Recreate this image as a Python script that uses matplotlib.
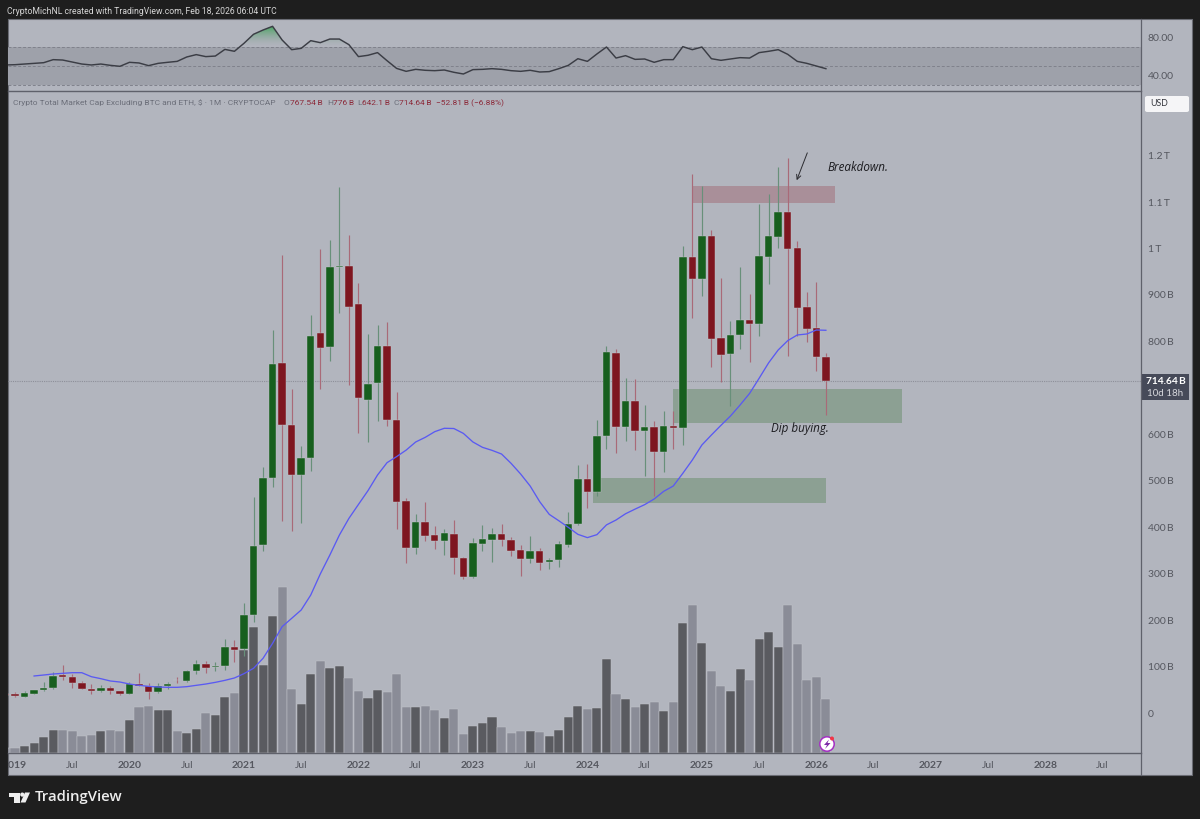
import numpy as np
import matplotlib
matplotlib.use("Agg")
import matplotlib.pyplot as plt
from matplotlib.colors import LinearSegmentedColormap
from matplotlib.patches import Rectangle, Polygon, Circle, FancyBboxPatch
from matplotlib.path import Path
from matplotlib.transforms import Bbox, IdentityTransform

# monthly candles in billions, Dec 2018 to Feb 2026
opens = [41, 40.2, 35.2, 40.9, 48.8, 53.8, 81.1, 76.8, 64.6, 52.4, 47.4, 53.1, 46.7,
         41.6, 62.4, 58.9, 45.2, 57.4, 71.1, 68.2, 91.1, 105.5, 98.3, 100.5, 142,
         137.8, 211, 361.7, 506, 753.6, 619.4, 513, 548, 817.5, 788.7, 961, 962.4,
         880, 674, 710, 790, 630, 455.7, 356, 412, 383, 371, 386, 333,
         292, 364.6, 373, 384.7, 372.5, 351, 332, 349.5, 325, 328.7, 361.7, 407.6,
         503.8, 475, 597, 776, 615, 672.5, 606.5, 615.8, 562, 618.7, 614, 982,
         934, 1028, 806.7, 772, 814, 846, 837.5, 982.5, 1025.6, 1079, 1002, 874,
         828, 767.54]
closes = [39.5, 35.9, 42.3, 49.5, 53.8, 80.4, 76.8, 64.6, 52.4, 47.4, 53.1, 46.7, 41.6,
          62.4, 58.9, 45.2, 57.4, 62.4, 70.4, 91.1, 105.5, 97.6, 100.5, 142, 135.6,
          211, 360.3, 505, 752, 620, 513, 548, 811, 786.6, 961, 962, 875,
          679, 709, 790, 630, 454, 356, 410.5, 381.8, 371, 387, 333, 292,
          365, 374, 384.7, 371.8, 348, 332, 349.5, 323.7, 329.4, 363, 408, 503.8,
          475, 596.4, 778, 615, 672.5, 606.5, 615.8, 562, 618, 614, 981, 934,
          1026, 804.5, 771.5, 814, 845.4, 837.5, 983, 1026, 1078, 1000, 872, 827.5,
          767, 714.64]
highs = [42, 44.5, 46.6, 50.2, 67.5, 89, 102.6, 84.7, 69.6, 61.7, 59.6, 58, 48.1,
         66, 85.4, 64.6, 64.6, 66, 78.2, 92.6, 114.8, 112, 110, 158.6, 157,
         237.6, 464.4, 529, 824, 986, 698, 575.6, 857, 998, 1018, 1132, 1029,
         925, 816, 834.7, 841, 692, 463, 429, 455, 403, 395.5, 415.5, 336.6,
         377.5, 404, 398, 408, 380, 361, 381, 354.5, 333, 370, 433, 534,
         536, 631, 790, 784, 720.6, 719, 664, 628.7, 650, 650, 1005.5, 1160,
         1135, 1040, 936, 844, 960, 901.4, 1095, 1117, 1176, 1195, 1016, 907,
         929, 776]
lows = [38, 34.4, 34.4, 40.2, 48.1, 52.4, 71, 54.5, 51, 41.6, 45.2, 40.9, 39.5,
        40.9, 58, 29.4, 43.8, 52.4, 64.6, 67.5, 84.7, 86.8, 91.1, 92.6, 110,
        122.7, 196.7, 348.8, 486, 413.4, 392, 410, 521.8, 698, 758.6, 860.5, 706,
        603.6, 584, 629.4, 618.6, 396, 322, 342, 371, 353, 341, 299, 288.5,
        290, 348, 325, 360, 338, 295, 323.7, 308, 310, 315, 357, 405.5,
        442, 467, 568, 560.5, 585.6, 566, 511, 468, 518, 568, 577, 850,
        898.6, 745.7, 713.4, 661.7, 783, 755, 812.4, 924, 1002, 768.6, 812.4, 798,
        736, 642.1]

# blue moving average, starts Mar 2019
ma_values = [79.7, 81.8, 84, 85.4, 86.8, 86.8, 78.2, 73.9, 68.9, 66.7,
             62.4, 59.6, 57.4, 56, 55.3, 55.3, 56.7, 59.6, 62.4, 66, 70.3, 75.4,
             84.7, 96.2, 117.7, 150, 185.9, 203.8, 221.8, 254, 299.3, 340, 383, 419,
             449, 478.7, 512.4, 539, 552, 566, 583.5, 593.5, 605.7, 613, 612.5, 602,
             583.5, 572, 565.5, 557.6, 537.5, 514.6, 488.7, 455, 427.7, 414, 399.7, 384.7,
             377.6, 384, 405, 415.5, 429, 439, 448.6, 460.8, 477.3, 488.7, 516, 544.7,
             577, 598.6, 619.4, 639.5, 663, 688, 720.6, 754, 781.6, 801.7, 813.9, 816,
             824.6, 824]

volumes = [5, 5, 7, 10, 15.7, 23.3, 23, 21.7, 17.3, 18, 21.7, 23.3, 21.7,
           33, 45.7, 47, 43.3, 43.3, 22.3, 20, 24, 40, 37.7, 56, 60,
           102.7, 126, 88.3, 137, 165.7, 64, 49, 79.3, 92, 84.7, 86.7, 75.3,
           62.3, 54.7, 63, 60.7, 79.3, 46.3, 46.3, 47.3, 43, 34.7, 44, 19,
           27.3, 30, 36, 25.7, 20.3, 22.3, 22.3, 21, 17, 22.7, 36, 47.3,
           44, 44.7, 94, 58.7, 54, 46.3, 49, 51.3, 42.3, 50.7, 129.7, 148,
           109.7, 82.3, 67.3, 62, 84.3, 73, 113.7, 121, 105.7, 148.3, 109, 73,
           76.3, 53.7]

rsi_values = [51.6, 51.9, 52.6, 53.3, 54, 57.2, 56.8, 54.7, 52.6, 51.6, 52.6, 51.2, 50.2,
              54.4, 53.7, 50.9, 53.3, 54.4, 55.4, 60, 62.5, 60.4, 61, 68, 66,
              74.4, 83.9, 88.4, 92.3, 77.9, 67.7, 69.1, 77.2, 75.1, 78.9, 78.9, 73,
              60.4, 61.8, 64.6, 56.1, 48, 44.9, 47, 46, 45.6, 46.3, 43.9, 42.1,
              46.7, 47, 47.7, 47, 45.6, 44.9, 46, 44.2, 44.6, 47.7, 51.2, 58.2,
              55.4, 63.2, 70.5, 58.9, 61.4, 57.5, 57.9, 54.4, 57.2, 57.2, 70.9, 67.7,
              70.5, 58.2, 56.5, 57.9, 59.3, 58.9, 64.6, 66, 67.7, 62.8, 55.4, 53.3,
              50.5, 47.7]

price_ticks = [0, 100, 200, 300, 400, 500, 600, 800, 900, 1000, 1100, 1200]
price_labels = ["0", "100\u2009B", "200\u2009B", "300\u2009B", "400\u2009B", "500\u2009B", "600\u2009B",
                "800\u2009B", "900\u2009B", "1\u2009T", "1.1\u2009T", "1.2\u2009T"]
time_ticks = [0, 6, 12, 18, 24, 30, 36, 42, 48, 54, 60, 66, 72, 78, 84, 90, 96, 102, 108, 114]
time_labels = ["2019", "Jul", "2020", "Jul", "2021", "Jul", "2022", "Jul", "2023", "Jul",
               "2024", "Jul", "2025", "Jul", "2026", "Jul", "2027", "Jul", "2028", "Jul"]
rsi_ticks = [40, 80]
rsi_labels = ["40.00", "80.00"]

months = np.arange(-1, 86)
opens, closes, highs, lows = map(np.array, (opens, closes, highs, lows))
volumes = np.array(volumes)
rsi_values = np.array(rsi_values)
ma_months = np.arange(2, 86)

W, H = 1200, 819
BG = "#b2b5be"
DARK = "#1e1e1e"
LINE = "#5f616b"
AXIS_TXT = "#55575f"
GREEN, RED = "#175f1e", "#7e1620"
GREEN_WICK, RED_WICK = "#68907a", "#a96a78"
VOL_UP, VOL_DOWN = "#5a5b60", "#8a8c97"

plt.rcParams["font.family"] = ["Lato", "DejaVu Sans"]


def box(x0, y0, x1, y1):
    return [x0 / W, 1 - y1 / H, (x1 - x0) / W, (y1 - y0) / H]


def fp(x, y):
    return (x / W, 1 - y / H)


def badge(x, y, r, **kw):
    # round shapes go in pixels so they stay circles
    fig.patches.append(Circle((x, H - y), r, transform=IdentityTransform(), **kw))


fig = plt.figure(figsize=(12, 8.19), dpi=100, facecolor=DARK)
fig.patches.append(Rectangle(fp(8, 775), 1184 / W, 756 / H, transform=fig.transFigure,
                             facecolor=BG, edgecolor="#6a6c74", linewidth=0.8, zorder=-5))

# RSI pane
ax_rsi = fig.add_axes(box(8, 19, 1141, 91), facecolor="none")
ax_rsi.axhspan(30, 70, color="#9ea1aa", zorder=0, linewidth=0)
for lvl in (30, 50, 70):
    ax_rsi.axhline(lvl, color="#80828c", lw=0.7, ls=(0, (3, 2)), zorder=1)
rsi_x = months.astype(float)
area = ax_rsi.fill_between(rsi_x, rsi_values, 70, where=rsi_values > 70, interpolate=True,
                           color="none", linewidth=0)
grad_cmap = LinearSegmentedColormap.from_list("ob", ["#9ea1aa00", "#3fa558"])
grad = np.linspace(1, 0, 64).reshape(-1, 1)
img = ax_rsi.imshow(grad, extent=[20, 80, 70, 93], aspect="auto", cmap=grad_cmap, zorder=1.5)
img.set_clip_path(Path.make_compound_path(*area.get_paths()), ax_rsi.transData)
ax_rsi.plot(rsi_x, rsi_values, color="#3b3d45", lw=1.05, zorder=3)
ax_rsi.set_ylim(24.2, 100)

# volume behind the candles
ax = fig.add_axes(box(8, 92, 1141, 753), facecolor="none")
ax_vol = ax.twinx()
up = closes >= opens
ax_vol.bar(months, volumes, width=0.95, color=np.where(up, VOL_UP, VOL_DOWN),
           edgecolor="#c2c4ca", linewidth=0.35)
ax_vol.set_ylim(0, 661)
ax_vol.axis("off")
ax.set_zorder(ax_vol.get_zorder() + 1)

# zones
ax.add_patch(Rectangle((70.96, 1098.8), 15, 35.9, facecolor="#a98f99", edgecolor="none", zorder=1))
ax.add_patch(Rectangle((69, 623.7), 24, 74.6, facecolor="#8ca093", edgecolor="none", zorder=1))
ax.add_patch(Rectangle((60.6, 451.4), 24.4, 53.6, facecolor="#8ca093", edgecolor="none", zorder=1))
ax.axhline(714.64, color="#8d8f99", lw=0.8, ls=(0, (1, 1)), zorder=1.5)

# candles
ax.vlines(months, lows, highs, colors=np.where(up, GREEN_WICK, RED_WICK), lw=0.85, zorder=2)
bottoms = np.minimum(opens, closes)
heights = np.maximum(np.abs(closes - opens), 1.5)
ax.bar(months, heights, bottom=bottoms, width=0.78, color=np.where(up, GREEN, RED),
       edgecolor="#c2c4ca", linewidth=0.3, zorder=3)
ax.plot(ma_months, ma_values, color="#5a5af2", lw=0.95, zorder=4)

ax.annotate("", xy=(81.94, 1147), xytext=(83.05, 1206),
            arrowprops=dict(arrowstyle="->", color="#2b2b30", lw=0.7, mutation_scale=8,
                            shrinkA=0, shrinkB=0), zorder=6)
ax.text(85.2, 1175, "Breakdown.", fontsize=8.4, style="italic", color="#1b1b1f", va="center",
        family=["Open Sans", "DejaVu Sans"], zorder=6)
ax.text(79.25, 613, "Dip buying.", fontsize=8.4, style="italic", color="#1b1b1f", va="center",
        family=["Open Sans", "DejaVu Sans"], zorder=6)

ax.set_xlim(-0.734, 118.03)
ax.set_ylim(-86.1, 1337)
ax_rsi.set_xlim(-0.734, 118.03)

# axes cosmetics
ax_rsi.set_xticks([])
ax_rsi.yaxis.tick_right()
ax_rsi.set_yticks(rsi_ticks, rsi_labels)
ax_rsi.tick_params(axis="y", length=0, pad=5, labelsize=7.5, labelcolor=AXIS_TXT)
ax.yaxis.tick_right()
ax.set_yticks(price_ticks, price_labels)
ax.tick_params(axis="y", length=0, pad=5, labelsize=7.5, labelcolor=AXIS_TXT)
ax.set_xticks(time_ticks, time_labels)
ax.tick_params(axis="x", length=0, pad=6, labelsize=7.5, labelcolor=AXIS_TXT)
clip_box = Bbox([[8, 0], [1141, H]])
for lab, name in zip(ax.get_xticklabels(), time_labels):
    lab.set_fontweight("normal" if name == "Jul" else "bold")
    lab.set_clip_box(clip_box)
    lab.set_clip_on(True)
for a in (ax, ax_rsi):
    for side in a.spines:
        a.spines[side].set_visible(False)
    a.spines["bottom"].set_visible(True)
    a.spines["bottom"].set_color(LINE)
    a.spines["bottom"].set_linewidth(1)
fig.add_artist(plt.Line2D([1141 / W, 1141 / W], [1 - 775 / H, 1 - 19 / H], color=LINE, lw=0.9))

# header and legend text
HEAD_FONT = ["Roboto", "DejaVu Sans"]
fig.text(7 / W, 1 - 11.5 / H, "CryptoMichNL created with TradingView.com, Feb 18, 2026 06:04 UTC",
         color="#d6d6d6", fontsize=6.2, va="center", family=HEAD_FONT)
LEG_Y = 1 - 103 / H
fig.text(13 / W, LEG_Y, "Crypto Total Market Cap Excluding BTC and ETH, $ · 1M · CRYPTOCAP",
         color="#6b6e79", fontsize=6.05, va="center", family=HEAD_FONT)
for xp, txt, col in [(284, "O", "#6b6e79"), (290, "767.54\u2009B", "#8c2a3a"),
                     (327, "H", "#6b6e79"), (333, "776\u2009B", "#8c2a3a"),
                     (357, "L", "#6b6e79"), (362, "642.1\u2009B", "#8c2a3a"),
                     (393.5, "C", "#6b6e79"), (399, "714.64\u2009B", "#8c2a3a"),
                     (436, "\u221252.81\u2009B (\u22126.88%)", "#8c2a3a")]:
    fig.text(xp / W, LEG_Y, txt, color=col, fontsize=6.05, va="center", family=HEAD_FONT)

# USD chip and last price tag
fig.patches.append(FancyBboxPatch(fp(1145, 112), 44 / W, 16 / H, transform=fig.transFigure,
                                  boxstyle="round,pad=0,rounding_size=0.002",
                                  facecolor="#f5f5f7", edgecolor="none"))
fig.text(1150 / W, 1 - 104 / H, "USD", color="#33353c", fontsize=6.3, va="center")
fig.patches.append(Rectangle(fp(1142, 399.5), 47 / W, 25.5 / H, transform=fig.transFigure,
                             facecolor="#464a59", edgecolor="none"))
fig.text(1165.5 / W, 1 - 381 / H, "714.64\u2009B", color="white", fontsize=7.3, weight="bold",
         ha="center", va="center")
fig.text(1165.5 / W, 1 - 393 / H, "10d 18h", color="#d8d9de", fontsize=7, ha="center", va="center")

# lightning badge
badge(827, 744, 7.2, facecolor="white", edgecolor="#a530c4", linewidth=1.1)
fig.patches.append(Polygon([fp(829, 739.5), fp(824, 745), fp(827, 745), fp(825, 749), fp(830.5, 743),
                            fp(827.5, 743)], transform=fig.transFigure, facecolor="#7d2aa8",
                           edgecolor="none"))
badge(832, 738.5, 2, facecolor="#f23645", edgecolor="none")

# TradingView logo
LOGO = "#eeeeee"
fig.patches.append(Polygon([fp(9, 792.5), fp(19.5, 792.5), fp(19.5, 802.5), fp(13.5, 802.5), fp(13.5, 796.5),
                            fp(9, 796.5)], transform=fig.transFigure, facecolor=LOGO, edgecolor="none"))
badge(22.3, 794.6, 2.1, facecolor=LOGO, edgecolor="none")
fig.patches.append(Polygon([fp(25, 792.5), fp(30, 792.5), fp(25.5, 802.5), fp(20.5, 802.5)],
                           transform=fig.transFigure, facecolor=LOGO, edgecolor="none"))
fig.text(35 / W, 1 - 797.5 / H, "TradingView", color=LOGO, fontsize=10.7, weight="semibold", va="center",
         family=["Open Sans", "DejaVu Sans"])

fig.savefig("out.png", dpi=100, facecolor=DARK)
